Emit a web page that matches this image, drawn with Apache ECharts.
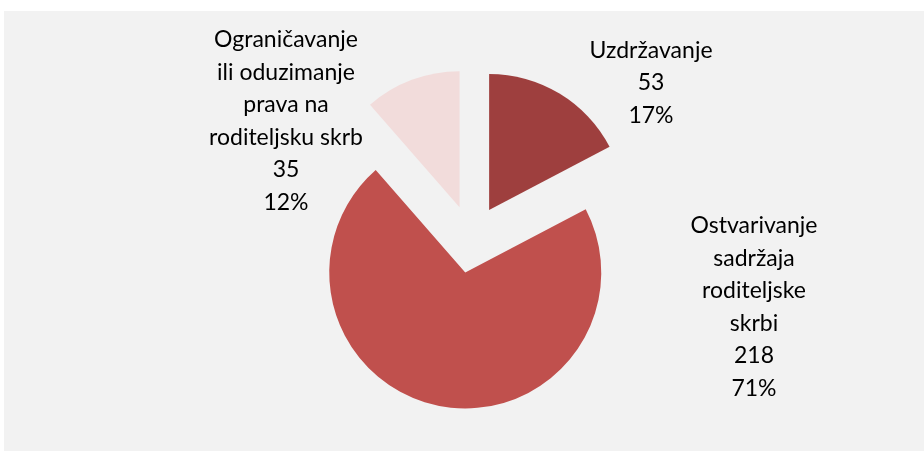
<!DOCTYPE html>
<html>
<head>
<meta charset="utf-8">
<script src="https://cdn.jsdelivr.net/npm/echarts@6/dist/echarts.min.js"></script>
<style>
  html, body { margin: 0; padding: 0; background: #ffffff; }
  #chart { width: 924px; height: 457px; }
</style>
</head>
<body>
<div id="chart"></div>
<script>
const categories = [
  'Uzdržavanje',
  'Ostvarivanje\nsadržaja\nroditeljske\nskrbi',
  'Ograničavanje\nili oduzimanje\nprava na\nroditeljsku skrb'
];
const values = [53, 218, 35];
const percentLabels = ['17%', '71%', '12%'];
const colors = ['#9e3f3e', '#c0504d', '#f2dcdb'];

// centre of each label block
const labelSpots = [[651, 83], [754, 307], [286, 121]];

const chart = echarts.init(document.getElementById('chart'));

const labelTexts = categories.map((name, i) => ({
  type: 'text',
  z: 10,
  style: {
    text: name + '\n' + values[i] + '\n' + percentLabels[i],
    x: labelSpots[i][0],
    y: labelSpots[i][1],
    align: 'center',
    verticalAlign: 'middle',
    font: '23px Lato',
    lineHeight: 32.5,
    fill: '#000000'
  }
}));

chart.setOption({
  animation: false,
  backgroundColor: '#ffffff',
  graphic: [{
    type: 'rect',
    z: -10,
    shape: { x: 4, y: 11, width: 920, height: 440 },
    style: { fill: '#f2f2f2' }
  }].concat(labelTexts),
  series: [{
    type: 'pie',
    center: [471.5, 239],
    radius: 136,
    startAngle: 90,
    clockwise: true,
    selectedMode: 'multiple',
    selectedOffset: 34,
    emphasis: { disabled: true },
    label: { show: false },
    labelLine: { show: false },
    data: categories.map((name, i) => ({
      name: name,
      value: values[i],
      selected: true,
      itemStyle: { color: colors[i] }
    }))
  }]
});
</script>
</body>
</html>
